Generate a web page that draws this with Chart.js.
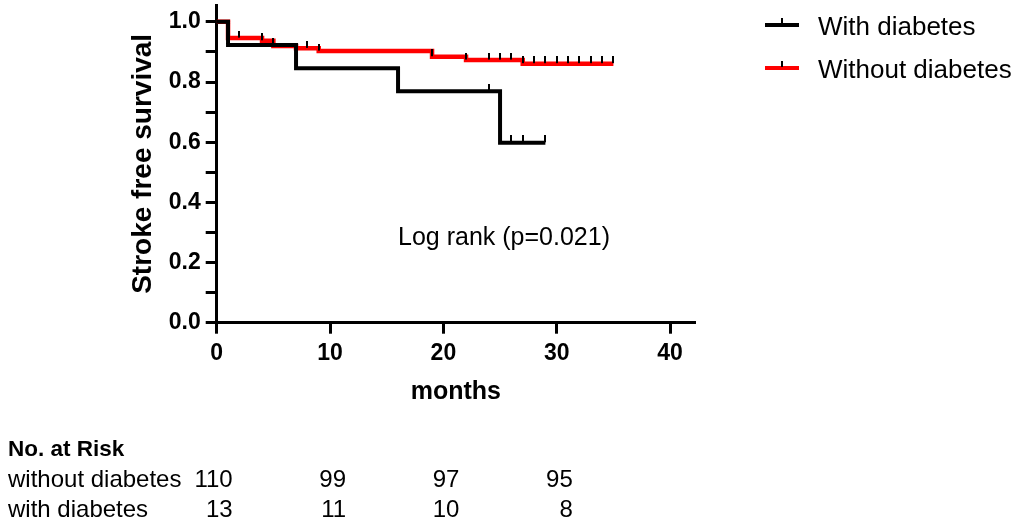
<!DOCTYPE html>
<html>
<head>
<meta charset="utf-8">
<script src="https://cdn.jsdelivr.net/npm/chart.js@4.4.0/dist/chart.umd.min.js"></script>
<style>
  html, body { margin: 0; padding: 0; background: #fff; }
  #wrap { width: 1021px; height: 522px; position: relative; }
</style>
</head>
<body>
<div id="wrap"><canvas id="km"></canvas></div>
<script>
// Kaplan-Meier steps (months, survival)
const withTimes = [0, 1, 7, 16, 25, 29];
const withSurv = [1.0, 0.923, 0.846, 0.769, 0.598, 0.598];
const withoutTimes = [0, 1, 4, 5, 7, 9, 19, 22, 27, 35];
const withoutSurv = [1.0, 0.946, 0.937, 0.920, 0.912, 0.903, 0.884, 0.873, 0.861, 0.861];

// censored observations (months)
const withCensor = [24, 26, 27, 29];
const withoutCensor = [2, 4, 5, 8, 9, 19, 22, 24, 25, 26, 27, 28, 29, 30, 31, 32, 33, 34, 35];

// number at risk table
const riskTimes = [0, 10, 20, 30];
const riskWithout = [110, 99, 97, 95];
const riskWith = [13, 11, 10, 8];
const riskNames = ['without diabetes', 'with diabetes'];

const seriesNames = ['With diabetes', 'Without diabetes'];
const seriesColors = ['#000000', '#ff0000'];
const yLabels = ['0.0', '0.2', '0.4', '0.6', '0.8', '1.0'];

const FONT = "'Liberation Sans', Arial, sans-serif";

function survAt(times, surv, t) {
    let s = surv[0];
    for (let i = 0; i < times.length; i++) {
        if (times[i] <= t) s = surv[i];
    }
    return s;
}

function toPoints(times, surv) {
    return times.map(function (t, i) { return { x: t, y: surv[i] }; });
}

// small vertical tick standing on the curve
function censorMark() {
    const c = document.createElement('canvas');
    c.width = 2;
    c.height = 15;
    const g = c.getContext('2d');
    g.fillStyle = '#000';
    g.fillRect(0, 0, 2, 7);
    return c;
}
const mark = censorMark();

const overlay = {
    id: 'overlay',
    afterDraw(chart) {
        const ctx = chart.ctx;
        const xs = chart.scales.x;
        ctx.save();

        // legend
        const legendY = [25, 68];
        ctx.font = '26px ' + FONT;
        ctx.textBaseline = 'alphabetic';
        ctx.textAlign = 'left';
        for (let i = 0; i < seriesNames.length; i++) {
            const y = legendY[i];
            ctx.fillStyle = seriesColors[i];
            ctx.fillRect(765, y - 2, 34, 4);
            ctx.fillStyle = '#000';
            ctx.fillRect(781, y - 7, 2, 6);
            ctx.fillText(seriesNames[i], 818, y + 9.5);
        }

        // log rank annotation
        ctx.font = '25px ' + FONT;
        ctx.fillText('Log rank (p=0.021)', 398, 245);

        // risk table
        ctx.font = 'bold 22.5px ' + FONT;
        ctx.fillText('No. at Risk', 8, 456);
        ctx.font = '24px ' + FONT;
        const rows = [riskWithout, riskWith];
        const rowY = [487, 517];
        for (let r = 0; r < rows.length; r++) {
            ctx.textAlign = 'left';
            ctx.fillText(riskNames[r], 8, rowY[r]);
            ctx.textAlign = 'right';
            for (let k = 0; k < riskTimes.length; k++) {
                ctx.fillText(String(rows[r][k]), xs.getPixelForValue(riskTimes[k]) + 16, rowY[r]);
            }
        }
        ctx.restore();
    }
};

new Chart(document.getElementById('km'), {
    type: 'line',
    data: {
        datasets: [
            {
                label: seriesNames[0],
                data: toPoints(withTimes, withSurv),
                borderColor: seriesColors[0],
                borderWidth: 4,
                stepped: 'before',
                pointRadius: 0,
                fill: false,
                order: 1
            },
            {
                label: seriesNames[1],
                data: toPoints(withoutTimes, withoutSurv),
                borderColor: seriesColors[1],
                borderWidth: 4.5,
                stepped: 'before',
                pointRadius: 0,
                fill: false,
                order: 2
            },
            {
                label: 'censored with',
                data: withCensor.map(function (t) { return { x: t, y: survAt(withTimes, withSurv, t) }; }),
                showLine: false,
                pointStyle: mark,
                pointRadius: 3,
                order: 0
            },
            {
                label: 'censored without',
                data: withoutCensor.map(function (t) { return { x: t, y: survAt(withoutTimes, withoutSurv, t) }; }),
                showLine: false,
                pointStyle: mark,
                pointRadius: 3,
                order: 0
            }
        ]
    },
    options: {
        responsive: true,
        maintainAspectRatio: false,
        animation: false,
        layout: { padding: { left: 0, top: 3, right: 326, bottom: 0 } },
        plugins: {
            legend: { display: false },
            tooltip: { enabled: false }
        },
        scales: {
            x: {
                type: 'linear',
                min: 0,
                max: 42.2,
                afterFit: function (scale) {
                    scale.height = 199.3;
                    scale.paddingLeft = 0;
                    scale.paddingRight = 0;
                },
                border: { display: true, color: '#000', width: 3 },
                grid: { drawOnChartArea: false, drawTicks: true, tickLength: 11, tickWidth: 3, tickColor: '#000' },
                ticks: {
                    stepSize: 10,
                    includeBounds: false,
                    autoSkip: false,
                    maxRotation: 0,
                    padding: 6,
                    color: '#000',
                    font: { family: FONT, size: 23, weight: 'bold' }
                },
                title: {
                    display: true,
                    text: 'months',
                    color: '#000',
                    font: { family: FONT, size: 25, weight: 'bold' },
                    padding: { top: 0, bottom: 115 }
                }
            },
            y: {
                min: 0,
                max: 1.056,
                afterFit: function (scale) {
                    scale.width = 216.7;
                    scale.paddingTop = 0;
                    scale.paddingBottom = 0;
                },
                border: { display: true, color: '#000', width: 3 },
                grid: { drawOnChartArea: false, drawTicks: true, tickLength: 11, tickWidth: 3, tickColor: '#000' },
                ticks: {
                    stepSize: 0.1,
                    includeBounds: false,
                    autoSkip: false,
                    padding: 5,
                    color: '#000',
                    font: { family: FONT, size: 23, weight: 'bold' },
                    callback: function (value, index) {
                        return index % 2 === 0 ? yLabels[index / 2] : '';
                    }
                },
                title: {
                    display: true,
                    text: 'Stroke free survival',
                    color: '#000',
                    font: { family: FONT, size: 28, weight: 'bold' },
                    padding: { top: 126, bottom: 0 }
                }
            }
        }
    },
    plugins: [overlay]
});
</script>
</body>
</html>
